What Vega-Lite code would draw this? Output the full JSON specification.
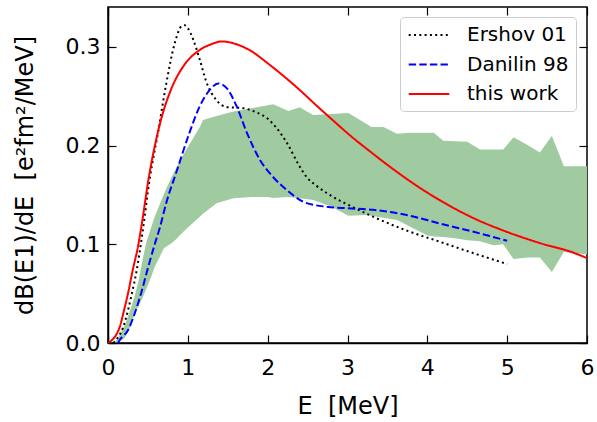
{
  "$schema": "https://vega.github.io/schema/vega-lite/v6.json",
  "width": 479,
  "height": 336,
  "autosize": {"type": "none"},
  "padding": {"left": 108, "top": 7, "right": 10, "bottom": 79},
  "background": "white",
  "config": {
    "font": "DejaVu Sans",
    "view": {"stroke": "black", "strokeWidth": 1.5},
    "axis": {
      "grid": false,
      "domainColor": "black",
      "domainWidth": 1.5,
      "tickColor": "black",
      "tickWidth": 1.2,
      "tickSize": -8,
      "labelFont": "DejaVu Sans",
      "labelFontSize": 22,
      "labelColor": "black",
      "titleFont": "DejaVu Sans",
      "titleFontSize": 24,
      "titleFontWeight": "normal",
      "titleColor": "black"
    },
    "legend": {
      "symbolType": "M-0.93,0H3.13",
      "symbolSize": 400,
      "symbolStrokeWidth": 2,
      "labelFont": "DejaVu Sans",
      "labelFontSize": 20,
      "labelColor": "black",
      "labelOffset": 38,
      "rowPadding": 8.5,
      "padding": 7,
      "fillColor": "white",
      "strokeColor": "#cccccc",
      "cornerRadius": 4
    }
  },
  "datasets": {
    "band": [
      {"E": 0.08, "lo": 0.0, "hi": 0.0},
      {"E": 0.125, "lo": 0.001, "hi": 0.005},
      {"E": 0.21, "lo": 0.005, "hi": 0.018},
      {"E": 0.29, "lo": 0.018, "hi": 0.036},
      {"E": 0.335, "lo": 0.03, "hi": 0.048},
      {"E": 0.38, "lo": 0.037, "hi": 0.062},
      {"E": 0.44, "lo": 0.047, "hi": 0.087},
      {"E": 0.48, "lo": 0.055, "hi": 0.102},
      {"E": 0.54, "lo": 0.067, "hi": 0.117},
      {"E": 0.585, "lo": 0.077, "hi": 0.128},
      {"E": 0.7, "lo": 0.096, "hi": 0.151},
      {"E": 0.795, "lo": 0.101, "hi": 0.168},
      {"E": 0.84, "lo": 0.104, "hi": 0.175},
      {"E": 0.96, "lo": 0.114, "hi": 0.193},
      {"E": 1.15, "lo": 0.128, "hi": 0.219},
      {"E": 1.19, "lo": 0.131, "hi": 0.226},
      {"E": 1.36, "lo": 0.1415, "hi": 0.23},
      {"E": 1.57, "lo": 0.1466, "hi": 0.2345},
      {"E": 1.8, "lo": 0.148, "hi": 0.238},
      {"E": 2.0, "lo": 0.148, "hi": 0.241},
      {"E": 2.07, "lo": 0.147, "hi": 0.242},
      {"E": 2.26, "lo": 0.148, "hi": 0.235},
      {"E": 2.4, "lo": 0.1466, "hi": 0.239},
      {"E": 2.57, "lo": 0.145, "hi": 0.231},
      {"E": 2.8, "lo": 0.138, "hi": 0.232},
      {"E": 3.01, "lo": 0.129, "hi": 0.233},
      {"E": 3.24, "lo": 0.1297, "hi": 0.222},
      {"E": 3.3, "lo": 0.129, "hi": 0.219},
      {"E": 3.45, "lo": 0.127, "hi": 0.219},
      {"E": 3.62, "lo": 0.1246, "hi": 0.212},
      {"E": 3.78, "lo": 0.118, "hi": 0.213},
      {"E": 4.0, "lo": 0.109, "hi": 0.213},
      {"E": 4.08, "lo": 0.108, "hi": 0.213},
      {"E": 4.2, "lo": 0.1075, "hi": 0.205},
      {"E": 4.37, "lo": 0.106, "hi": 0.2045},
      {"E": 4.5, "lo": 0.104, "hi": 0.204},
      {"E": 4.66, "lo": 0.103, "hi": 0.196},
      {"E": 4.83, "lo": 0.099, "hi": 0.196},
      {"E": 4.95, "lo": 0.1, "hi": 0.196},
      {"E": 5.08, "lo": 0.085, "hi": 0.2085},
      {"E": 5.25, "lo": 0.0867, "hi": 0.201},
      {"E": 5.41, "lo": 0.0867, "hi": 0.193},
      {"E": 5.56, "lo": 0.072, "hi": 0.21},
      {"E": 5.71, "lo": 0.0924, "hi": 0.179},
      {"E": 5.83, "lo": 0.091, "hi": 0.179},
      {"E": 6.0, "lo": 0.09, "hi": 0.179}
    ],
    "curves": [
      {"series": "Ershov 01", "E": 0.07, "y": 0.0},
      {"series": "Ershov 01", "E": 0.1, "y": 0.003},
      {"series": "Ershov 01", "E": 0.19, "y": 0.016},
      {"series": "Ershov 01", "E": 0.25, "y": 0.033},
      {"series": "Ershov 01", "E": 0.29, "y": 0.047},
      {"series": "Ershov 01", "E": 0.36, "y": 0.074},
      {"series": "Ershov 01", "E": 0.42, "y": 0.105},
      {"series": "Ershov 01", "E": 0.52, "y": 0.165},
      {"series": "Ershov 01", "E": 0.63, "y": 0.215},
      {"series": "Ershov 01", "E": 0.73, "y": 0.263},
      {"series": "Ershov 01", "E": 0.84, "y": 0.305},
      {"series": "Ershov 01", "E": 0.92, "y": 0.321},
      {"series": "Ershov 01", "E": 0.96, "y": 0.322},
      {"series": "Ershov 01", "E": 1.0, "y": 0.319},
      {"series": "Ershov 01", "E": 1.07, "y": 0.307},
      {"series": "Ershov 01", "E": 1.15, "y": 0.287},
      {"series": "Ershov 01", "E": 1.23, "y": 0.265},
      {"series": "Ershov 01", "E": 1.36, "y": 0.246},
      {"series": "Ershov 01", "E": 1.49, "y": 0.239},
      {"series": "Ershov 01", "E": 1.69, "y": 0.238},
      {"series": "Ershov 01", "E": 1.85, "y": 0.234},
      {"series": "Ershov 01", "E": 1.99, "y": 0.228},
      {"series": "Ershov 01", "E": 2.1, "y": 0.219},
      {"series": "Ershov 01", "E": 2.24, "y": 0.203},
      {"series": "Ershov 01", "E": 2.4, "y": 0.179},
      {"series": "Ershov 01", "E": 2.49, "y": 0.168},
      {"series": "Ershov 01", "E": 2.6, "y": 0.16},
      {"series": "Ershov 01", "E": 2.74, "y": 0.152},
      {"series": "Ershov 01", "E": 2.91, "y": 0.144},
      {"series": "Ershov 01", "E": 3.01, "y": 0.14},
      {"series": "Ershov 01", "E": 3.32, "y": 0.128},
      {"series": "Ershov 01", "E": 3.74, "y": 0.114},
      {"series": "Ershov 01", "E": 4.16, "y": 0.1025},
      {"series": "Ershov 01", "E": 4.58, "y": 0.091},
      {"series": "Ershov 01", "E": 5.0, "y": 0.08},
      {"series": "Danilin 98", "E": 0.125, "y": 0.0},
      {"series": "Danilin 98", "E": 0.147, "y": 0.003},
      {"series": "Danilin 98", "E": 0.25, "y": 0.013},
      {"series": "Danilin 98", "E": 0.335, "y": 0.03},
      {"series": "Danilin 98", "E": 0.42, "y": 0.052},
      {"series": "Danilin 98", "E": 0.5, "y": 0.076},
      {"series": "Danilin 98", "E": 0.585, "y": 0.1},
      {"series": "Danilin 98", "E": 0.65, "y": 0.117},
      {"series": "Danilin 98", "E": 0.73, "y": 0.142},
      {"series": "Danilin 98", "E": 0.86, "y": 0.174},
      {"series": "Danilin 98", "E": 1.02, "y": 0.213},
      {"series": "Danilin 98", "E": 1.15, "y": 0.24},
      {"series": "Danilin 98", "E": 1.28, "y": 0.257},
      {"series": "Danilin 98", "E": 1.38, "y": 0.263},
      {"series": "Danilin 98", "E": 1.49, "y": 0.258},
      {"series": "Danilin 98", "E": 1.61, "y": 0.24},
      {"series": "Danilin 98", "E": 1.74, "y": 0.213},
      {"series": "Danilin 98", "E": 1.9, "y": 0.186},
      {"series": "Danilin 98", "E": 2.07, "y": 0.168},
      {"series": "Danilin 98", "E": 2.24, "y": 0.155},
      {"series": "Danilin 98", "E": 2.45, "y": 0.143},
      {"series": "Danilin 98", "E": 2.74, "y": 0.138},
      {"series": "Danilin 98", "E": 3.01, "y": 0.1365},
      {"series": "Danilin 98", "E": 3.32, "y": 0.135},
      {"series": "Danilin 98", "E": 3.74, "y": 0.1297},
      {"series": "Danilin 98", "E": 4.16, "y": 0.121},
      {"series": "Danilin 98", "E": 4.58, "y": 0.1127},
      {"series": "Danilin 98", "E": 5.0, "y": 0.1036},
      {"series": "this work", "E": 0.0, "y": 0.0},
      {"series": "this work", "E": 0.05, "y": 0.003},
      {"series": "this work", "E": 0.1, "y": 0.008},
      {"series": "this work", "E": 0.15, "y": 0.017},
      {"series": "this work", "E": 0.2, "y": 0.033},
      {"series": "this work", "E": 0.25, "y": 0.05},
      {"series": "this work", "E": 0.31, "y": 0.074},
      {"series": "this work", "E": 0.375, "y": 0.0975},
      {"series": "this work", "E": 0.41, "y": 0.114},
      {"series": "this work", "E": 0.52, "y": 0.172},
      {"series": "this work", "E": 0.65, "y": 0.222},
      {"series": "this work", "E": 0.795, "y": 0.258},
      {"series": "this work", "E": 0.94, "y": 0.28},
      {"series": "this work", "E": 1.15, "y": 0.297},
      {"series": "this work", "E": 1.3, "y": 0.303},
      {"series": "this work", "E": 1.42, "y": 0.3056},
      {"series": "this work", "E": 1.6, "y": 0.303},
      {"series": "this work", "E": 1.8, "y": 0.2955},
      {"series": "this work", "E": 2.0, "y": 0.2835},
      {"series": "this work", "E": 2.2, "y": 0.2705},
      {"series": "this work", "E": 2.4, "y": 0.2565},
      {"series": "this work", "E": 2.6, "y": 0.2415},
      {"series": "this work", "E": 2.82, "y": 0.2255},
      {"series": "this work", "E": 3.03, "y": 0.2105},
      {"series": "this work", "E": 3.3, "y": 0.193},
      {"series": "this work", "E": 3.55, "y": 0.1775},
      {"series": "this work", "E": 3.8, "y": 0.163},
      {"series": "this work", "E": 4.16, "y": 0.1445},
      {"series": "this work", "E": 4.58, "y": 0.1265},
      {"series": "this work", "E": 5.0, "y": 0.1125},
      {"series": "this work", "E": 5.4, "y": 0.1015},
      {"series": "this work", "E": 5.83, "y": 0.0915},
      {"series": "this work", "E": 6.0, "y": 0.086}
    ]
  },
  "layer": [
    {
      "data": {"name": "band"},
      "mark": {"type": "area", "color": "#a0cba0", "opacity": 1},
      "encoding": {
        "x": {
          "field": "E", "type": "quantitative",
          "scale": {"domain": [0, 6], "nice": false, "zero": false},
          "axis": {"orient": "bottom", "values": [0, 1, 2, 3, 4, 5, 6], "format": "d", "labelPadding": 22, "title": "E\u00a0\u00a0[MeV]", "titlePadding": 16, "labelFlush": false}
        },
        "y": {
          "field": "lo", "type": "quantitative",
          "scale": {"domain": [0, 0.3405], "nice": false},
          "axis": {"orient": "left", "values": [0, 0.1, 0.2, 0.3], "format": ".1f", "labelPadding": 16, "title": "dB(E1)/dE\u00a0\u00a0[e²fm²/MeV]", "titlePadding": 28}
        },
        "y2": {"field": "hi"}
      }
    },
    {
      "data": {"name": "curves"},
      "mark": {"type": "line", "clip": true, "interpolate": "monotone"},
      "encoding": {
        "x": {
          "field": "E", "type": "quantitative",
          "scale": {"domain": [0, 6], "nice": false, "zero": false},
          "axis": {"orient": "top", "values": [0, 1, 2, 3, 4, 5, 6], "labels": false, "title": null, "domain": false}
        },
        "y": {
          "field": "y", "type": "quantitative",
          "scale": {"domain": [0, 0.3405], "nice": false},
          "axis": {"orient": "right", "values": [0, 0.1, 0.2, 0.3], "labels": false, "title": null, "domain": false}
        },
        "color": {
          "field": "series", "type": "nominal",
          "scale": {"domain": ["Ershov 01", "Danilin 98", "this work"], "range": ["#000000", "#0000ff", "#ff0000"]},
          "legend": {"title": null, "orient": "none", "legendX": 292, "legendY": 10}
        },
        "strokeDash": {
          "field": "series", "type": "nominal",
          "scale": {"domain": ["Ershov 01", "Danilin 98", "this work"], "range": [[2, 3.3], [7.4, 3.2], [1, 0]]},
          "legend": {"title": null, "orient": "none", "legendX": 292, "legendY": 10}
        },
        "strokeWidth": {
          "field": "series", "type": "nominal",
          "scale": {"domain": ["Ershov 01", "Danilin 98", "this work"], "range": [2, 2, 1.5]},
          "legend": null
        }
      }
    }
  ],
  "resolve": {"axis": {"x": "independent", "y": "independent"}}
}
